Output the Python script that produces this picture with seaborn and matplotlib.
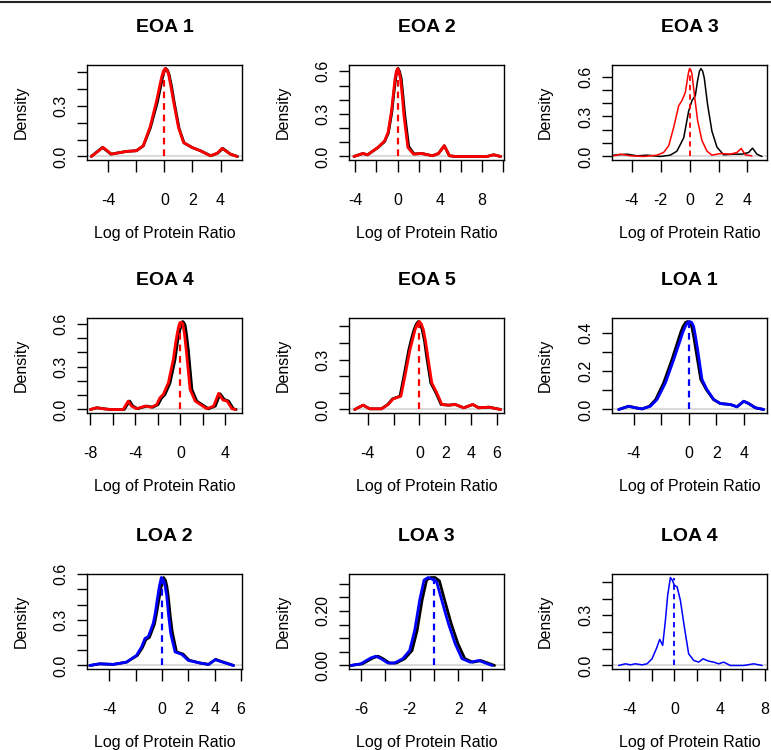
import matplotlib
matplotlib.use("Agg")
import matplotlib.pyplot as plt
from matplotlib.lines import Line2D
import seaborn as sns

# density curves (x knots, y knots)
eoa1_bx = [-5.2, -4.4, -3.8, -2.7, -2.0, -1.5, -1.0, -0.5, -0.3, -0.15, -0.02, 0.1, 0.22, 0.35, 0.52, 0.7, 1.05, 1.4, 2.0, 2.6, 3.3, 3.8, 4.15, 4.7, 5.2]
eoa1_by = [0.0, 0.054, 0.014, 0.03, 0.034, 0.062, 0.168, 0.32, 0.4, 0.46, 0.5, 0.52, 0.51, 0.48, 0.41, 0.32, 0.165, 0.08, 0.052, 0.033, 0.004, 0.02, 0.048, 0.014, 0.0]
eoa1_cx = [-5.19, -4.36, -3.76, -2.69, -1.98, -1.5, -1.02, -0.55, -0.35, -0.19, -0.07, 0.05, 0.17, 0.29, 0.45, 0.64, 1.0, 1.36, 1.95, 2.55, 3.26, 3.74, 4.1, 4.69, 5.17]
eoa1_cy = [0.0, 0.054, 0.014, 0.03, 0.034, 0.064, 0.173, 0.33, 0.41, 0.47, 0.505, 0.52, 0.512, 0.49, 0.42, 0.33, 0.173, 0.083, 0.054, 0.034, 0.004, 0.018, 0.048, 0.014, 0.0]

eoa2_bx = [-4.13, -3.3, -2.84, -1.87, -1.23, -0.88, -0.55, -0.38, -0.22, -0.08, 0.05, 0.18, 0.34, 0.5, 0.68, 1.05, 1.55, 2.3, 3.3, 3.87, 4.42, 4.9, 5.5, 8.45, 9.1, 9.75]
eoa2_by = [0.0, 0.021, 0.012, 0.062, 0.105, 0.165, 0.31, 0.43, 0.53, 0.6, 0.62, 0.6, 0.55, 0.43, 0.29, 0.07, 0.018, 0.021, 0.005, 0.021, 0.076, 0.005, 0.0, 0.0, 0.012, 0.0]
eoa2_cx = [-4.13, -3.3, -2.84, -1.87, -1.23, -0.9, -0.58, -0.4, -0.26, -0.12, 0.0, 0.13, 0.29, 0.45, 0.61, 0.97, 1.5, 2.3, 3.3, 3.87, 4.42, 4.9, 5.5, 8.45, 9.1, 9.75]
eoa2_cy = [0.0, 0.021, 0.012, 0.064, 0.11, 0.17, 0.32, 0.44, 0.54, 0.6, 0.62, 0.6, 0.54, 0.42, 0.28, 0.064, 0.017, 0.021, 0.005, 0.021, 0.076, 0.005, 0.0, 0.0, 0.012, 0.0]

eoa3_bx = [-5.25, -4.33, -3.64, -2.95, -2.03, -1.34, -0.88, -0.41, -0.07, 0.16, 0.39, 0.55, 0.68, 0.78, 0.9, 1.01, 1.24, 1.54, 1.89, 2.35, 3.04, 3.62, 4.08, 4.35, 4.65, 5.0]
eoa3_by = [0.01, 0.0175, 0.005, 0.01, 0.0, 0.01, 0.04, 0.14, 0.34, 0.42, 0.455, 0.57, 0.64, 0.66, 0.64, 0.59, 0.39, 0.19, 0.07, 0.0125, 0.0175, 0.0175, 0.03, 0.0625, 0.0175, 0.0]
eoa3_cx = [-5.25, -4.79, -4.1, -3.18, -2.26, -1.8, -1.45, -1.1, -0.76, -0.53, -0.3, -0.14, -0.06, 0.0, 0.08, 0.16, 0.32, 0.55, 0.85, 1.2, 1.54, 2.12, 2.81, 3.27, 3.57, 3.85, 4.3]
eoa3_cy = [0.005, 0.0175, 0.005, 0.0, 0.01, 0.03, 0.08, 0.22, 0.38, 0.42, 0.48, 0.59, 0.64, 0.66, 0.65, 0.62, 0.47, 0.27, 0.12, 0.04, 0.01, 0.022, 0.0175, 0.03, 0.06, 0.0125, 0.005]

eoa4_bx = [-8.0, -7.4, -6.8, -6.2, -5.0, -4.52, -4.22, -3.8, -3.0, -2.45, -1.98, -1.68, -1.38, -0.93, -0.48, -0.25, -0.1, 0.05, 0.2, 0.3, 0.42, 0.55, 0.7, 1.02, 1.45, 1.9, 2.5, 3.1, 3.52, 3.9, 4.28, 4.7, 4.95]
eoa4_by = [0.0, 0.012, 0.005, 0.0, 0.0, 0.059, 0.024, 0.005, 0.024, 0.016, 0.035, 0.08, 0.104, 0.185, 0.35, 0.48, 0.54, 0.59, 0.617, 0.61, 0.59, 0.52, 0.42, 0.14, 0.059, 0.035, 0.005, 0.024, 0.11, 0.07, 0.059, 0.005, 0.0]
eoa4_cx = [-8.0, -7.47, -6.88, -6.28, -5.09, -4.64, -4.35, -3.9, -3.15, -2.56, -2.11, -1.82, -1.52, -1.07, -0.63, -0.42, -0.27, -0.13, -0.03, 0.09, 0.21, 0.36, 0.51, 0.86, 1.31, 1.76, 2.35, 2.95, 3.39, 3.78, 4.14, 4.58, 4.88]
eoa4_cy = [0.0, 0.012, 0.005, 0.0, 0.0, 0.059, 0.024, 0.005, 0.024, 0.016, 0.035, 0.082, 0.106, 0.188, 0.353, 0.47, 0.54, 0.59, 0.61, 0.612, 0.6, 0.53, 0.42, 0.14, 0.059, 0.035, 0.005, 0.024, 0.113, 0.066, 0.059, 0.005, 0.0]

eoa5_bx = [-5.01, -4.36, -3.84, -2.94, -2.45, -2.08, -1.5, -1.2, -0.82, -0.6, -0.42, -0.24, -0.08, 0.07, 0.22, 0.4, 0.56, 0.88, 1.28, 1.68, 2.26, 2.78, 3.43, 4.13, 4.6, 5.38, 6.29]
eoa5_by = [0.0, 0.026, 0.004, 0.004, 0.03, 0.064, 0.08, 0.2, 0.36, 0.43, 0.48, 0.515, 0.53, 0.515, 0.48, 0.41, 0.32, 0.16, 0.1, 0.03, 0.026, 0.03, 0.01, 0.03, 0.01, 0.014, 0.0]
eoa5_cx = [-5.01, -4.36, -3.84, -2.94, -2.42, -2.03, -1.43, -1.12, -0.73, -0.5, -0.34, -0.15, 0.0, 0.15, 0.31, 0.48, 0.65, 0.96, 1.35, 1.74, 2.26, 2.78, 3.43, 4.13, 4.6, 5.38, 6.29]
eoa5_cy = [0.0, 0.026, 0.004, 0.004, 0.03, 0.064, 0.08, 0.2, 0.36, 0.43, 0.48, 0.515, 0.53, 0.515, 0.48, 0.41, 0.32, 0.16, 0.1, 0.03, 0.026, 0.03, 0.01, 0.03, 0.01, 0.014, 0.0]

loa1_bx = [-5.08, -4.36, -3.87, -3.39, -2.85, -2.4, -1.82, -1.22, -0.75, -0.57, -0.4, -0.23, -0.08, 0.07, 0.22, 0.37, 0.52, 0.88, 1.28, 1.8, 2.3, 3.03, 3.51, 4.0, 4.36, 4.84, 5.45]
loa1_by = [0.0, 0.017, 0.009, 0.003, 0.017, 0.052, 0.139, 0.26, 0.365, 0.405, 0.435, 0.455, 0.46, 0.455, 0.435, 0.38, 0.313, 0.157, 0.104, 0.052, 0.031, 0.026, 0.014, 0.043, 0.031, 0.009, 0.0]
loa1_cx = [-5.08, -4.36, -3.87, -3.39, -2.78, -2.3, -1.69, -1.09, -0.6, -0.42, -0.24, -0.08, 0.07, 0.22, 0.36, 0.5, 0.65, 0.97, 1.33, 1.82, 2.3, 3.03, 3.51, 4.0, 4.36, 4.84, 5.45]
loa1_cy = [0.0, 0.017, 0.009, 0.003, 0.017, 0.052, 0.139, 0.26, 0.365, 0.405, 0.435, 0.455, 0.46, 0.455, 0.435, 0.38, 0.313, 0.157, 0.104, 0.052, 0.031, 0.026, 0.014, 0.043, 0.031, 0.009, 0.0]

loa2_bx = [-5.48, -4.72, -3.7, -2.69, -1.88, -1.5, -1.22, -0.95, -0.58, -0.42, -0.26, -0.08, 0.12, 0.26, 0.37, 0.48, 0.62, 0.78, 1.1, 1.6, 2.05, 2.89, 3.53, 4.08, 4.46, 5.43]
loa2_by = [0.0, 0.011, 0.007, 0.022, 0.065, 0.115, 0.17, 0.185, 0.27, 0.34, 0.42, 0.51, 0.578, 0.56, 0.52, 0.45, 0.33, 0.22, 0.09, 0.075, 0.035, 0.016, 0.007, 0.04, 0.028, 0.0]
loa2_cx = [-5.48, -4.72, -3.7, -2.69, -1.93, -1.55, -1.29, -1.04, -0.66, -0.5, -0.36, -0.2, -0.05, 0.12, 0.24, 0.36, 0.5, 0.66, 0.99, 1.5, 2.0, 2.89, 3.53, 4.04, 4.42, 5.43]
loa2_cy = [0.0, 0.011, 0.007, 0.022, 0.067, 0.122, 0.178, 0.189, 0.278, 0.35, 0.433, 0.52, 0.578, 0.56, 0.52, 0.456, 0.33, 0.211, 0.089, 0.073, 0.033, 0.016, 0.007, 0.038, 0.027, 0.0]

loa3_bx = [-6.86, -5.9, -5.0, -4.6, -4.2, -3.65, -3.1, -2.4, -1.8, -1.38, -0.97, -0.6, -0.25, 0.1, 0.45, 0.88, 1.42, 1.98, 2.55, 3.2, 3.88, 4.45, 5.0]
loa3_by = [0.0, 0.006, 0.028, 0.034, 0.025, 0.009, 0.009, 0.025, 0.055, 0.129, 0.24, 0.313, 0.322, 0.322, 0.31, 0.24, 0.154, 0.08, 0.025, 0.012, 0.018, 0.009, 0.0]
loa3_cx = [-6.86, -6.03, -5.19, -4.78, -4.36, -3.8, -3.25, -2.56, -2.0, -1.58, -1.17, -0.81, -0.47, -0.14, 0.22, 0.64, 1.19, 1.75, 2.31, 3.0, 3.69, 4.25, 4.8]
loa3_cy = [0.0, 0.006, 0.028, 0.034, 0.025, 0.009, 0.009, 0.025, 0.055, 0.129, 0.24, 0.313, 0.322, 0.316, 0.307, 0.24, 0.154, 0.08, 0.025, 0.012, 0.018, 0.009, 0.0]

loa4_cx = [-4.91, -4.32, -3.88, -3.44, -2.85, -2.41, -1.97, -1.59, -1.29, -1.03, -0.79, -0.59, -0.35, -0.18, 0.0, 0.24, 0.53, 0.88, 1.26, 1.71, 2.15, 2.53, 3.03, 3.47, 3.91, 4.35, 4.94, 6.12, 7.0, 7.74]
loa4_cy = [0.0, 0.01, 0.004, 0.01, 0.004, 0.01, 0.04, 0.1, 0.156, 0.12, 0.27, 0.42, 0.526, 0.51, 0.48, 0.47, 0.39, 0.23, 0.07, 0.03, 0.02, 0.04, 0.026, 0.02, 0.01, 0.02, 0.0, 0.0, 0.01, 0.0]

titles = ["EOA 1", "EOA 2", "EOA 3", "EOA 4", "EOA 5", "LOA 1", "LOA 2", "LOA 3", "LOA 4"]
xticks = [[-4, -2, 0, 2, 4], [-4, -2, 0, 2, 4, 6, 8, 10], [-4, -2, 0, 2, 4],
          [-8, -6, -4, -2, 0, 2, 4], [-4, -2, 0, 2, 4, 6], [-4, -2, 0, 2, 4],
          [-4, -2, 0, 2, 4, 6], [-6, -4, -2, 0, 2, 4], [-4, -2, 0, 2, 4, 6, 8]]
xtick_labels = [["-4", "", "0", "2", "4"], ["-4", "", "0", "", "4", "", "8", ""], ["-4", "-2", "0", "2", "4"],
                ["-8", "", "-4", "", "0", "", "4"], ["-4", "", "0", "2", "4", "6"], ["-4", "", "0", "2", "4"],
                ["-4", "", "0", "2", "4", "6"], ["-6", "", "-2", "", "2", "4"], ["-4", "", "0", "", "4", "", "8"]]
yticks = [[0, .1, .2, .3, .4, .5], [0, .1, .2, .3, .4, .5, .6], [0, .1, .2, .3, .4, .5, .6],
          [0, .1, .2, .3, .4, .5, .6], [0, .1, .2, .3, .4, .5], [0, .1, .2, .3, .4],
          [0, .1, .2, .3, .4, .5, .6], [0, .05, .1, .15, .2, .25, .3], [0, .1, .2, .3, .4, .5]]
ytick_labels = [["0.0", "", "", "0.3", "", ""], ["0.0", "", "", "0.3", "", "", "0.6"], ["0.0", "", "", "0.3", "", "", "0.6"],
                ["0.0", "", "", "0.3", "", "", "0.6"], ["0.0", "", "", "0.3", "", ""], ["0.0", "", "0.2", "", "0.4"],
                ["0.0", "", "", "0.3", "", "", "0.6"], ["0.00", "", "", "", "0.20", "", ""], ["0.0", "", "", "0.3", "", ""]]
xlims = [(-5.5, 5.52), (-4.6, 10.07), (-5.37, 5.35), (-8.3, 5.47), (-5.45, 6.55),
         (-5.57, 5.69), (-5.69, 6.07), (-7.0, 5.78), (-5.5, 8.17)]

black = [(eoa1_bx, eoa1_by), (eoa2_bx, eoa2_by), (eoa3_bx, eoa3_by), (eoa4_bx, eoa4_by), (eoa5_bx, eoa5_by),
         (loa1_bx, loa1_by), (loa2_bx, loa2_by), (loa3_bx, loa3_by), None]
coloured = [(eoa1_cx, eoa1_cy), (eoa2_cx, eoa2_cy), (eoa3_cx, eoa3_cy), (eoa4_cx, eoa4_cy), (eoa5_cx, eoa5_cy),
            (loa1_cx, loa1_cy), (loa2_cx, loa2_cy), (loa3_cx, loa3_cy), (loa4_cx, loa4_cy)]
colours = ["red"] * 5 + ["blue"] * 4
widths = [2, 2, 1.1, 2, 2, 2, 2, 2, 1.1]

sns.set_style("white")
plt.rcParams["font.family"] = ["Liberation Sans", "DejaVu Sans"]
plt.rcParams["text.color"] = "black"
plt.rcParams["axes.labelcolor"] = "black"
plt.rcParams["xtick.color"] = "black"
plt.rcParams["ytick.color"] = "black"

W, H = 771, 750
fig = plt.figure(figsize=(W / 100, H / 100), dpi=100)
col_left = [87, 349, 612]
row_top = [65, 318, 574]
box_w, box_h = 155, 95

for i in range(9):
    r, c = divmod(i, 3)
    ax = fig.add_axes([col_left[c] / W, 1 - (row_top[r] + box_h) / H, box_w / W, box_h / H])
    lw = widths[i]
    cx, cy = coloured[i]
    top = max(cy)
    ax.axhline(0, color="#d4d4d4", lw=1.2, zorder=0)
    if black[i] is not None:
        bx, by = black[i]
        top = max(top, max(by))
        sns.lineplot(x=bx, y=by, ax=ax, color="black", lw=lw, sort=False, estimator=None)
    sns.lineplot(x=cx, y=cy, ax=ax, color=colours[i], lw=lw, sort=False, estimator=None)
    ax.vlines(0, 0, max(cy), colors=colours[i], linestyles=(0, (3, 2.2)), lw=max(lw * 0.8, 1.3))

    ax.set_xlim(*xlims[i])
    ax.set_ylim(-0.04 * top, 1.04 * top)
    ax.set_xticks(xticks[i])
    ax.set_xticklabels(xtick_labels[i])
    ax.set_yticks(yticks[i])
    ax.set_yticklabels(ytick_labels[i], rotation=90, va="center")
    ax.tick_params(axis="x", direction="out", length=8.5, width=1, pad=15, labelsize=11.5, bottom=True)
    ax.tick_params(axis="y", direction="out", length=7.5, width=1, pad=6, labelsize=11.5, left=True)
    for s in ax.spines.values():
        s.set_color("black")
        s.set_linewidth(1.0)

    ax.set_title(titles[i], fontsize=14, fontweight="bold", pad=24)
    ax.set_xlabel("Log of Protein Ratio", fontsize=11.5, labelpad=13)
    ax.set_ylabel("Density", fontsize=11.5, labelpad=18)

fig.add_artist(Line2D([0, 1], [0.998, 0.998], transform=fig.transFigure, color="#222222", lw=1.5))
fig.savefig("out.png", dpi=100)
